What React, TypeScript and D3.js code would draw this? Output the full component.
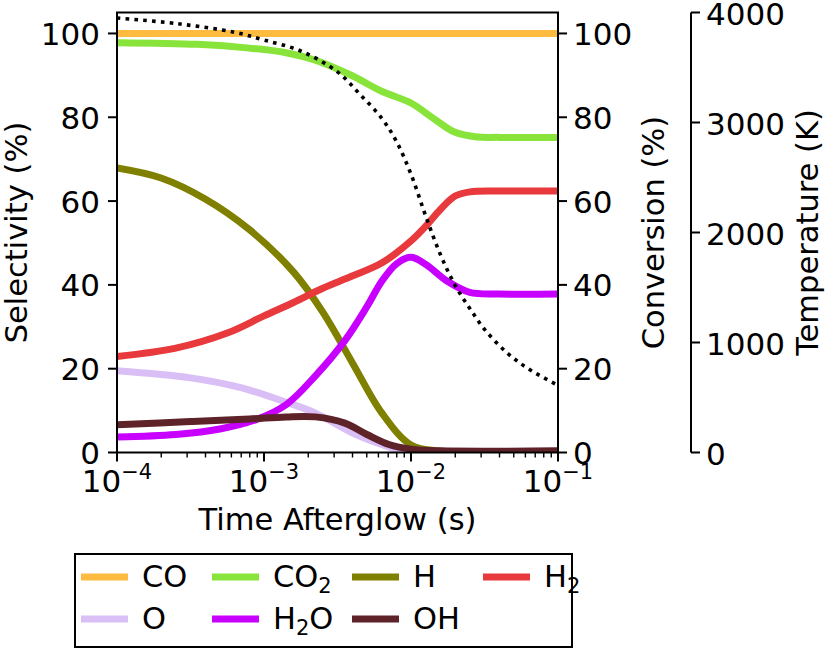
import React from 'react';
import * as d3 from 'd3';

const W = 827;
const H = 650;
const FONT = '"DejaVu Sans", Verdana, sans-serif';

// time is stored as log10 exponent (s)
const coExp = [-4, -1];
const coVal = [100, 100];

const co2Exp = [-4, -3.45, -3.1, -2.85, -2.65, -2.4, -2.2, -2.0, -1.85, -1.7, -1.55, -1.4, -1];
const co2Val = [97.8, 97.4, 96.5, 95.4, 93.6, 89.9, 86.2, 83.4, 79.8, 76.4, 75.3, 75.2, 75.2];

const hExp = [-4, -3.7, -3.4, -3.1, -2.8, -2.6, -2.4, -2.2, -2.0, -1.8, -1.6, -1];
const hVal = [67.9, 65.5, 60.5, 53.2, 43.1, 33.5, 21.5, 9.5, 1.8, 0.3, 0, 0];

const h2Exp = [-4, -3.6, -3.25, -3.0, -2.8, -2.6, -2.4, -2.2, -2.0, -1.9, -1.8, -1.7, -1.6, -1.4, -1];
const h2Val = [22.9, 24.9, 28.5, 32.6, 35.8, 39.2, 42.1, 45.2, 50.5, 54.0, 58.0, 61.2, 62.2, 62.4, 62.4];

const oExp = [-4, -3.5, -3.15, -2.85, -2.65, -2.4, -2.2, -2.1, -1.95, -1.8, -1];
const oVal = [19.5, 17.8, 15.4, 12.0, 9.4, 4.7, 1.9, 0.8, 0.1, 0, 0];

const h2oExp = [-4, -3.6, -3.3, -3.05, -2.85, -2.65, -2.45, -2.3, -2.2, -2.1, -2.0, -1.9, -1.75, -1.6, -1.4, -1];
const h2oVal = [3.7, 4.3, 5.6, 7.9, 11.4, 18.3, 26.7, 34.8, 40.8, 45.0, 46.6, 44.9, 40.8, 38.2, 37.8, 37.8];

const ohExp = [-4, -3.5, -3.1, -2.85, -2.65, -2.45, -2.3, -2.15, -2.0, -1.8, -1];
const ohVal = [6.6, 7.4, 8.0, 8.5, 8.5, 7.0, 4.3, 1.9, 0.8, 0.4, 0.4];

// temperature (K), right-most axis
const tempExp = [-4, -3.6, -3.2, -3.0, -2.75, -2.5, -2.35, -2.2, -2.1, -2.0, -1.9, -1.8, -1.7, -1.6, -1.5, -1.35, -1.2, -1.0];
const tempVal = [3950, 3900, 3820, 3750, 3650, 3460, 3260, 3040, 2830, 2530, 2150, 1800, 1520, 1310, 1120, 910, 760, 610];

const series = [
  { label: 'CO', color: '#fdbc40', exp: coExp, val: coVal },
  { label: 'CO_2', color: '#88e43a', exp: co2Exp, val: co2Val },
  { label: 'H', color: '#808000', exp: hExp, val: hVal },
  { label: 'H_2', color: '#e8393c', exp: h2Exp, val: h2Val },
  { label: 'O', color: '#dabff6', exp: oExp, val: oVal },
  { label: 'H_2O', color: '#c800ff', exp: h2oExp, val: h2oVal },
  { label: 'OH', color: '#5e2229', exp: ohExp, val: ohVal },
];

const selTicks = [0, 20, 40, 60, 80, 100];
const tempTicks = [0, 1000, 2000, 3000, 4000];
const xTickExp = [-4, -3, -2, -1];

// split "H_2O" into normal / subscript parts
function labelParts(s: string) {
  const parts: { t: string; sub: boolean }[] = [];
  const re = /_(\d)/g;
  let last = 0;
  let m;
  while ((m = re.exec(s)) !== null) {
    if (m.index > last) parts.push({ t: s.slice(last, m.index), sub: false });
    parts.push({ t: m[1], sub: true });
    last = m.index + m[0].length;
  }
  if (last < s.length) parts.push({ t: s.slice(last), sub: false });
  return parts;
}

const App: React.FC = () => {
  const left = 117, right = 558, top = 12.5, bottom = 452.5;
  const tempAxisX = 691;

  const xScale = d3.scaleLog().domain([1e-4, 1e-1]).range([left, right]);
  const yScale = d3.scaleLinear().domain([0, 105]).range([bottom, top]);
  const tScale = d3.scaleLinear().domain([0, 4000]).range([bottom, top]);

  const line = (exp: number[], val: number[], sc: d3.ScaleLinear<number, number>) =>
    d3.line<number>()
      .x((_, i) => xScale(Math.pow(10, exp[i])))
      .y(d => sc(d))
      .curve(d3.curveCatmullRom.alpha(0.5))(val) || '';

  const minorTicks: number[] = [];
  for (let e = -4; e < -1; e++) {
    for (let k = 2; k <= 9; k++) minorTicks.push(k * Math.pow(10, e));
  }

  const tickFs = 31;
  const labFs = 30.5;
  const subFs = 21;

  const legendCols = [81, 212, 352, 483];
  const legendRows = [577, 619];

  return (
    <svg width={W} height={H} style={{ position: 'absolute', left: 0, top: 0, background: '#fff' }}
      fontFamily={FONT}>
      <defs>
        <clipPath id="plotClip">
          <rect x={left} y={top} width={right - left} height={bottom - top} />
        </clipPath>
      </defs>

      {/* series */}
      <g clipPath="url(#plotClip)">
        {series.map(s => (
          <path key={s.label} d={line(s.exp, s.val, yScale)} fill="none"
            stroke={s.color} strokeWidth={7} />
        ))}
        <path d={line(tempExp, tempVal, tScale)} fill="none" stroke="#000"
          strokeWidth={3.6} strokeDasharray="3.6,5.2" />
      </g>

      {/* frame */}
      <rect x={left} y={top} width={right - left} height={bottom - top}
        fill="none" stroke="#000" strokeWidth={2} />

      {/* x ticks */}
      {xTickExp.map(e => {
        const x = xScale(Math.pow(10, e));
        return (
          <g key={e}>
            <line x1={x} x2={x} y1={bottom} y2={bottom + 9} stroke="#000" strokeWidth={2} />
            <text x={x} y={491.5} textAnchor="middle" fontSize={tickFs} fill="#000">
              10<tspan fontSize={subFs} dy={-13}>{'\u2212' + Math.abs(e)}</tspan>
            </text>
          </g>
        );
      })}
      {minorTicks.map(t => (
        <line key={t} x1={xScale(t)} x2={xScale(t)} y1={bottom} y2={bottom + 5}
          stroke="#000" strokeWidth={1.4} />
      ))}
      <text x={(left + right) / 2} y={530} textAnchor="middle" fontSize={labFs}>Time Afterglow (s)</text>

      {/* left and right (conversion) ticks */}
      {selTicks.map(v => (
        <g key={v}>
          <line x1={left - 9} x2={left} y1={yScale(v)} y2={yScale(v)} stroke="#000" strokeWidth={2} />
          <text x={100} y={yScale(v) + 11.5} textAnchor="end" fontSize={tickFs}>{v}</text>
          <line x1={right} x2={right + 9} y1={yScale(v)} y2={yScale(v)} stroke="#000" strokeWidth={2} />
          <text x={573} y={yScale(v) + 11.5} textAnchor="start" fontSize={tickFs}>{v}</text>
        </g>
      ))}
      <text transform={`translate(27,${(top + bottom) / 2}) rotate(-90)`} textAnchor="middle"
        fontSize={labFs}>Selectivity (%)</text>
      <text transform={`translate(664,${(top + bottom) / 2}) rotate(-90)`} textAnchor="middle"
        fontSize={labFs}>Conversion (%)</text>

      {/* temperature axis */}
      <line x1={tempAxisX} x2={tempAxisX} y1={top} y2={bottom} stroke="#000" strokeWidth={2} />
      {tempTicks.map(v => (
        <g key={v}>
          <line x1={tempAxisX} x2={tempAxisX + 9} y1={tScale(v)} y2={tScale(v)} stroke="#000" strokeWidth={2} />
          <text x={706} y={tScale(v) + 12.5} textAnchor="start" fontSize={tickFs}>{v}</text>
        </g>
      ))}
      <text transform={`translate(818,${(top + bottom) / 2}) rotate(-90)`} textAnchor="middle"
        fontSize={labFs}>Temperature (K)</text>

      {/* legend */}
      <rect x={75} y={554} width={497} height={93} fill="#fff" stroke="#000" strokeWidth={2} />
      {series.map((s, i) => {
        const col = i % 4;
        const row = Math.floor(i / 4);
        const x = legendCols[col];
        const y = legendRows[row];
        return (
          <g key={s.label}>
            <line x1={x} x2={x + 47} y1={y} y2={y} stroke={s.color} strokeWidth={7} />
            <text x={x + 61} y={y + 10} fontSize={labFs}>
              {labelParts(s.label).map((p, j, arr) => {
                const prevSub = j > 0 && arr[j - 1].sub;
                const dy = p.sub ? 6 : prevSub ? -6 : 0;
                return (
                  <tspan key={j} fontSize={p.sub ? subFs : labFs} dy={dy}>{p.t}</tspan>
                );
              })}
            </text>
          </g>
        );
      })}
    </svg>
  );
};

export default App;
